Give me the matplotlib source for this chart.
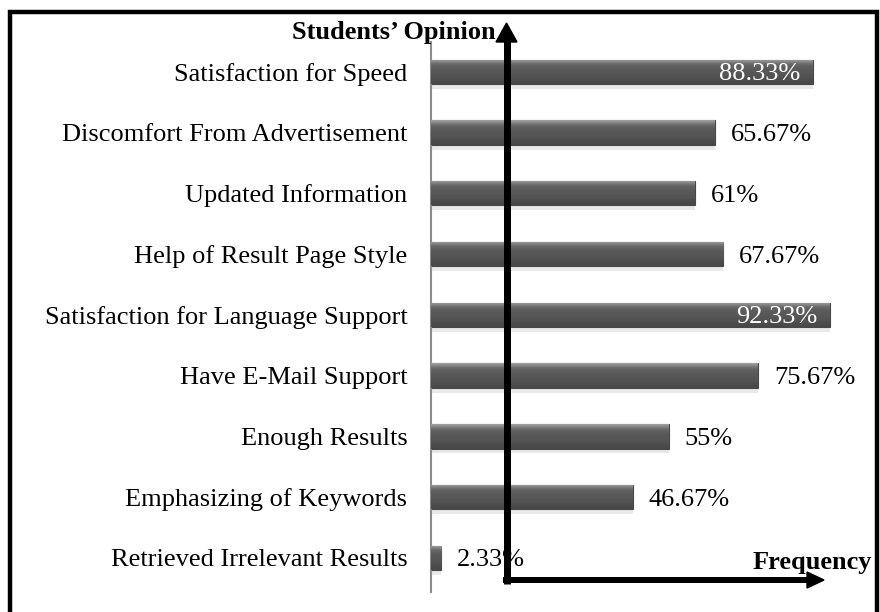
import numpy as np
import matplotlib
matplotlib.use("Agg")
import matplotlib.pyplot as plt
from matplotlib.patches import Rectangle, Polygon
from matplotlib.lines import Line2D

categories = [
    "Retrieved Irrelevant Results",
    "Emphasizing of Keywords",
    "Enough Results",
    "Have E-Mail Support",
    "Satisfaction for Language Support",
    "Help of Result Page Style",
    "Updated Information",
    "Discomfort From Advertisement",
    "Satisfaction for Speed",
]
values = [2.33, 46.67, 55, 75.67, 92.33, 67.67, 61, 65.67, 88.33]
value_labels = ["2.33%", "46.67%", "55%", "75.67%", "92.33%", "67.67%", "61%", "65.67%", "88.33%"]
inside_label = [False, False, False, False, True, False, False, False, True]

W, H = 880, 612
fig = plt.figure(figsize=(W / 100, H / 100), dpi=100)
plt.rcParams["font.family"] = ["Liberation Serif", "DejaVu Serif"]
FS = 19

def fx(px):
    return px / W

def fy(py):
    return 1 - py / H

ax = fig.add_axes([fx(431), fy(592), fx(863) - fx(431), fy(42) - fy(592)])
ax.set_xlim(0, 100)
ypos = np.arange(len(categories))

bar_h = 0.40
# soft shadow
ax.barh(ypos - 0.08, values, height=bar_h, color="#cfcfcf", alpha=0.45,
        edgecolor="none", zorder=1)
bars = ax.barh(ypos, values, height=bar_h, color="#5a5a5a", edgecolor="#474747",
               linewidth=0.8, zorder=2)

grad = np.array([0.62, 0.56, 0.50, 0.44, 0.40, 0.38, 0.37, 0.36, 0.35, 0.35,
                 0.34, 0.34, 0.33, 0.33, 0.32, 0.31, 0.30, 0.30, 0.29, 0.28]).reshape(-1, 1)
for b in bars:
    x0, y0 = b.get_x(), b.get_y()
    w, h = b.get_width(), b.get_height()
    im = ax.imshow(grad, cmap="gray", vmin=0, vmax=1, aspect="auto",
                   extent=[x0, x0 + w, y0, y0 + h], origin="upper", zorder=3,
                   interpolation="bicubic")
    im.set_clip_path(b)

ax.set_xlim(0, 100)
ax.set_ylim(-0.56, len(categories) - 1 + 0.49)

px_per_unit = 432 / 100
for i, (v, lab, ins) in enumerate(zip(values, value_labels, inside_label)):
    if ins:
        ax.text(v - 12 / px_per_unit, i, lab, ha="right", va="center_baseline",
                fontsize=FS, color="white", zorder=5)
    else:
        ax.text(v + 16 / px_per_unit, i, lab, ha="left", va="center_baseline",
                fontsize=FS, color="black", zorder=5)

ax.set_yticks(ypos)
ax.set_yticklabels(categories, fontsize=FS)
ax.tick_params(axis="y", length=0, pad=17)
ax.set_xticks([])
for s in ["top", "right", "bottom"]:
    ax.spines[s].set_visible(False)
ax.spines["left"].set_color("#8c8c8c")
ax.spines["left"].set_linewidth(1.5)
ax.patch.set_alpha(0)

# outer frame
fig.patches.append(Rectangle((fx(10), fy(640)), fx(877) - fx(10), fy(12) - fy(640),
                             transform=fig.transFigure, fill=False, edgecolor="black",
                             linewidth=3.2, zorder=0))

# thick arrows
lw_px = 7
fig.lines.append(Line2D([fx(506.5), fx(506.5)], [fy(583.5), fy(40)], transform=fig.transFigure,
                        color="black", linewidth=lw_px * 0.72, solid_capstyle="butt", zorder=10))
fig.lines.append(Line2D([fx(503), fx(810)], [fy(580), fy(580)], transform=fig.transFigure,
                        color="black", linewidth=6 * 0.72, solid_capstyle="butt", zorder=10))
fig.patches.append(Polygon([(fx(496), fy(42)), (fx(517), fy(42)), (fx(506.5), fy(23))],
                           closed=True, transform=fig.transFigure, color="black", zorder=10))
fig.patches.append(Polygon([(fx(807), fy(572)), (fx(807), fy(588)), (fx(824), fy(580))],
                           closed=True, transform=fig.transFigure, color="black", zorder=10))

fig.text(fx(496), fy(32), "Students\u2019 Opinion", ha="right", va="center",
         fontsize=FS, fontweight="bold")
fig.text(fx(753), fy(563), "Frequency", ha="left", va="center",
         fontsize=FS, fontweight="bold")

fig.savefig("out.png", dpi=100)
